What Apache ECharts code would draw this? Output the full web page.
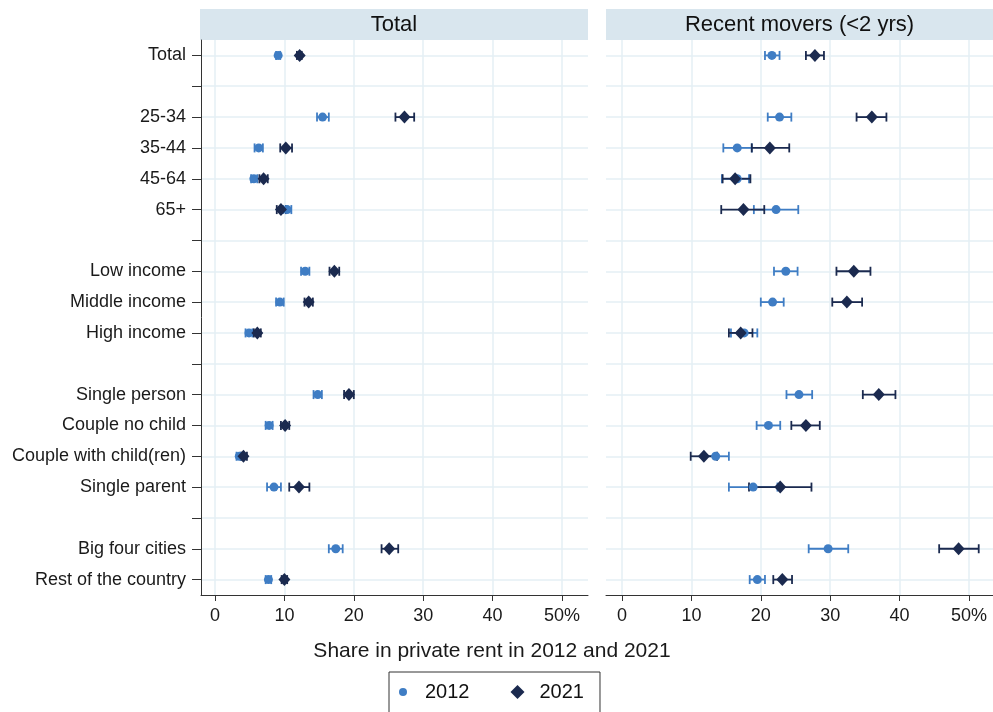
<!DOCTYPE html>
<html>
<head>
<meta charset="utf-8">
<script src="https://cdn.jsdelivr.net/npm/echarts@6/dist/echarts.min.js"></script>
<style>
  html, body { margin: 0; padding: 0; background: #ffffff; }
  #chart { width: 993px; height: 712px; }
</style>
</head>
<body>
<div id="chart"></div>
<script>
// Row labels; empty strings are spacer rows between groups
const categories = [
  'Total', '',
  '25-34', '35-44', '45-64', '65+', '',
  'Low income', 'Middle income', 'High income', '',
  'Single person', 'Couple no child', 'Couple with child(ren)', 'Single parent', '',
  'Big four cities', 'Rest of the country'
];

const xTicks = [0, 10, 20, 30, 40, 50];
const xTickLabels = ['0', '10', '20', '30', '40', '50%'];

const panelTitles = ['Total', 'Recent movers (<2 yrs)'];
const seriesNames = ['2012', '2021'];

// All households: share in private rent (%) with confidence bounds
const totalShare2012 = [9.1, null, 15.5, 6.3, 5.6, 10.4, null, 13.0, 9.35, 4.9, null, 14.8, 7.8, 3.5, 8.5, null, 17.4, 7.7];
const totalLow2012   = [8.8, null, 14.7, 5.7, 5.2, 9.8, null, 12.4, 8.8, 4.4, null, 14.2, 7.3, 3.1, 7.5, null, 16.4, 7.3];
const totalHigh2012  = [9.4, null, 16.4, 6.9, 6.1, 11.0, null, 13.6, 9.9, 5.4, null, 15.4, 8.3, 3.9, 9.5, null, 18.4, 8.1];

const totalShare2021 = [12.2, null, 27.3, 10.2, 7.0, 9.5, null, 17.2, 13.5, 6.1, null, 19.3, 10.1, 4.1, 12.1, null, 25.1, 10.0];
const totalLow2021   = [11.8, null, 26.0, 9.4, 6.4, 8.9, null, 16.5, 12.9, 5.6, null, 18.6, 9.5, 3.7, 10.7, null, 24.0, 9.6];
const totalHigh2021  = [12.5, null, 28.7, 11.1, 7.6, 10.2, null, 17.9, 14.1, 6.6, null, 20.0, 10.7, 4.6, 13.6, null, 26.4, 10.4];

// Recent movers (moved within the last two years)
const moversShare2012 = [21.6, null, 22.7, 16.6, 16.6, 22.2, null, 23.6, 21.7, 17.6, null, 25.5, 21.1, 13.5, 18.9, null, 29.7, 19.5];
const moversLow2012   = [20.6, null, 21.0, 14.6, 14.4, 19.0, null, 21.9, 20.0, 15.7, null, 23.7, 19.4, 11.7, 15.4, null, 26.9, 18.4];
const moversHigh2012  = [22.7, null, 24.4, 18.7, 18.3, 25.4, null, 25.3, 23.3, 19.5, null, 27.4, 22.8, 15.4, 22.4, null, 32.6, 20.6];

const moversShare2021 = [27.8, null, 36.0, 21.3, 16.3, 17.5, null, 33.4, 32.4, 17.1, null, 37.0, 26.5, 11.8, 22.8, null, 48.5, 23.1];
const moversLow2021   = [26.5, null, 33.8, 18.7, 14.5, 14.3, null, 30.9, 30.3, 15.4, null, 34.7, 24.4, 9.9, 18.3, null, 45.7, 21.8];
const moversHigh2021  = [29.1, null, 38.1, 24.1, 18.5, 20.5, null, 35.8, 34.6, 18.8, null, 39.4, 28.5, 13.7, 27.3, null, 51.4, 24.5];

// Styling
const FONT = "'Liberation Sans', Arial, Helvetica, sans-serif";
const COLOR_2012 = '#3f7dc4';
const COLOR_2021 = '#1b2a4f';
const GRID_COLOR = '#e4eff5';
const AXIS_COLOR = '#333333';
const STRIP_COLOR = '#d9e6ee';

// Legend icons: a small dot centred in a 14x14 box, and a full-size diamond
const LEGEND_DOT = 'path://M0,0L0,0M14,14L14,14M7,3A4,4,0,1,1,7,11A4,4,0,1,1,7,3Z';
const LEGEND_DIAMOND = 'diamond';

// Panel geometry: outer frame (axis lines, strips) and inner data range (0..50)
const PLOT_TOP = 40;
const PLOT_BOTTOM = 595;
const panels = [
  { frameLeft: 201, frameRight: 588, dataLeft: 215, dataRight: 562, showYAxis: true },
  { frameLeft: 606, frameRight: 993, dataLeft: 622, dataRight: 969, showYAxis: false }
];

const grids = [];
const xAxes = [];
const yAxes = [];
panels.forEach(function (p, i) {
  // frame grid: axis lines, row grid lines, row labels
  grids.push({ left: p.frameLeft, width: p.frameRight - p.frameLeft, top: PLOT_TOP, height: PLOT_BOTTOM - PLOT_TOP });
  // data grid: value scale 0..50
  grids.push({ left: p.dataLeft, width: p.dataRight - p.dataLeft, top: PLOT_TOP, height: PLOT_BOTTOM - PLOT_TOP });

  xAxes.push({
    gridIndex: 2 * i, type: 'value', min: 0, max: 1,
    axisLine: { show: true, lineStyle: { color: AXIS_COLOR, width: 1 } },
    axisTick: { show: false }, axisLabel: { show: false }, splitLine: { show: false }
  });
  xAxes.push({
    gridIndex: 2 * i + 1, type: 'value', min: 0, max: 50, interval: 10,
    axisLine: { show: false },
    axisTick: { show: true, length: 6, lineStyle: { color: AXIS_COLOR, width: 1 } },
    axisLabel: {
      show: true, margin: 12, color: '#1a1a1a', fontSize: 18, fontFamily: FONT,
      formatter: function (v) { const k = xTicks.indexOf(v); return k >= 0 ? xTickLabels[k] : ''; }
    },
    splitLine: { show: true, lineStyle: { color: GRID_COLOR, width: 1.5 } }
  });

  yAxes.push({
    gridIndex: 2 * i, type: 'category', data: categories, inverse: true, boundaryGap: true,
    axisLine: { show: p.showYAxis, lineStyle: { color: AXIS_COLOR, width: 1 } },
    axisTick: { show: p.showYAxis, alignWithLabel: true, length: 9, lineStyle: { color: AXIS_COLOR } },
    axisLabel: { show: p.showYAxis, margin: 15, color: '#1a1a1a', fontSize: 18, fontFamily: FONT, interval: 0 },
    splitLine: { show: true, alignWithLabel: true, interval: 0, lineStyle: { color: GRID_COLOR, width: 1.5 } }
  });
  yAxes.push({
    gridIndex: 2 * i + 1, type: 'category', data: categories, inverse: true, boundaryGap: true, show: false
  });
});

function errorBarRenderer(color) {
  return function (params, api) {
    const row = api.value(2);
    const a = api.coord([api.value(0), row]);
    const b = api.coord([api.value(1), row]);
    const cap = 4.5;
    const style = { stroke: color, lineWidth: 1.8 };
    return {
      type: 'group',
      children: [
        { type: 'line', shape: { x1: a[0], y1: a[1], x2: b[0], y2: b[1] }, style: style },
        { type: 'line', shape: { x1: a[0], y1: a[1] - cap, x2: a[0], y2: a[1] + cap }, style: style },
        { type: 'line', shape: { x1: b[0], y1: b[1] - cap, x2: b[0], y2: b[1] + cap }, style: style }
      ]
    };
  };
}

function rangeData(lo, hi) {
  const out = [];
  lo.forEach(function (v, i) { if (v !== null) out.push([v, hi[i], i]); });
  return out;
}
function pointData(est) {
  const out = [];
  est.forEach(function (v, i) { if (v !== null) out.push([v, i]); });
  return out;
}

const panelData = [
  { s2012: [totalShare2012, totalLow2012, totalHigh2012], s2021: [totalShare2021, totalLow2021, totalHigh2021] },
  { s2012: [moversShare2012, moversLow2012, moversHigh2012], s2021: [moversShare2021, moversLow2021, moversHigh2021] }
];

const series = [];
panelData.forEach(function (pd, i) {
  const axisIdx = 2 * i + 1;
  [['2012', pd.s2012, COLOR_2012, 'circle', 9], ['2021', pd.s2021, COLOR_2021, 'diamond', [12, 13]]].forEach(function (cfg) {
    const name = cfg[0], arr = cfg[1], color = cfg[2], symbol = cfg[3], size = cfg[4];
    series.push({
      type: 'custom', name: name + ' interval', xAxisIndex: axisIdx, yAxisIndex: axisIdx,
      renderItem: errorBarRenderer(color), encode: { x: [0, 1], y: 2 },
      data: rangeData(arr[1], arr[2]), silent: true, z: 2
    });
    series.push({
      type: 'scatter', name: name, xAxisIndex: axisIdx, yAxisIndex: axisIdx,
      symbol: symbol, symbolSize: size, itemStyle: { color: color, opacity: 1 },
      data: pointData(arr[0]), z: 3
    });
  });
});

const graphics = [];
panels.forEach(function (p, i) {
  const left = p.frameLeft - (i === 0 ? 1 : 0);
  const w = p.frameRight - left;
  graphics.push({ type: 'rect', left: left, top: 9, shape: { width: w, height: 31 }, style: { fill: STRIP_COLOR }, silent: true });
  graphics.push({
    type: 'text', x: left + w / 2, y: 25, silent: true,
    style: { text: panelTitles[i], fill: '#111', font: '22px ' + FONT, textAlign: 'center', textVerticalAlign: 'middle' }
  });
});
graphics.push({
  type: 'text', x: 492, y: 651, silent: true,
  style: { text: 'Share in private rent in 2012 and 2021', fill: '#1a1a1a', font: '21px ' + FONT, textAlign: 'center', textVerticalAlign: 'middle' }
});

const chart = echarts.init(document.getElementById('chart'), null, { renderer: 'canvas' });
chart.setOption({
  backgroundColor: '#ffffff',
  animation: false,
  textStyle: { fontFamily: FONT },
  grid: grids,
  xAxis: xAxes,
  yAxis: yAxes,
  legend: {
    data: [{ name: seriesNames[0], icon: LEGEND_DOT }, { name: seriesNames[1], icon: LEGEND_DIAMOND }],
    left: 389, top: 672,
    orient: 'horizontal',
    itemWidth: 14, itemHeight: 14, itemGap: 41,
    padding: [10, 16, 25, 7],
    borderColor: '#333', borderWidth: 1,
    textStyle: { fontSize: 20, color: '#111', fontFamily: FONT, padding: [0, 0, 0, 10] }
  },
  graphic: graphics,
  series: series
});
</script>
</body>
</html>
